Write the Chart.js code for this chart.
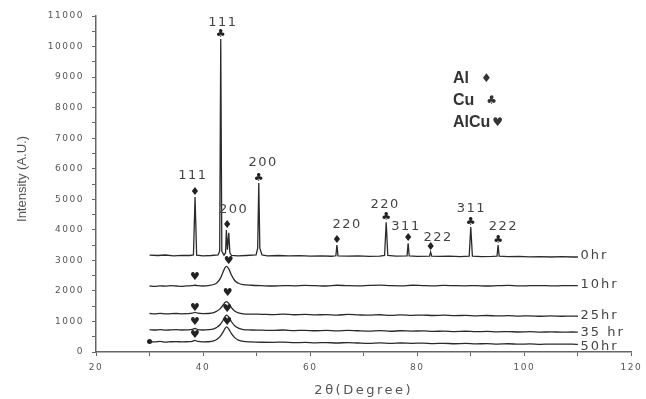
<!DOCTYPE html>
<html>
<head>
<meta charset="utf-8">
<script src="https://cdn.jsdelivr.net/npm/chart.js@4.4.1/dist/chart.umd.min.js"></script>
<style>
  html, body { margin: 0; padding: 0; background: #fff; }
  #xrd { display: block; }
</style>
</head>
<body>
<canvas id="xrd" width="646" height="399"></canvas>
<script>
// XRD patterns, 2-theta (deg) vs intensity (a.u.)
// as-received powder (0hr), sharp lines
const tt0 = [30, 31.5, 33, 34.5, 36, 37.5, 38.2, 38.5, 38.8, 40, 41.5, 42.8, 43.1, 43.3, 43.5, 43.9,
  44.2, 44.35, 44.55, 44.8, 45.0, 45.3, 46.5, 48, 49.9, 50.2, 50.4, 50.6, 51, 52, 54, 56, 58, 60, 62, 64,
  64.8, 65.0, 65.2, 67, 69, 71, 73, 73.9, 74.2, 74.5, 76, 78.1, 78.3, 78.5, 80, 82.3, 82.5, 82.7,
  84, 86, 88, 89.7, 90.0, 90.3, 92, 94, 94.9, 95.1, 95.3, 97, 99, 101, 103, 105, 107, 109, 110];
const i0hr = [3170, 3160, 3175, 3150, 3165, 3160, 3180, 5070, 3170, 3150, 3160, 3180, 3300, 10250, 3300, 3170,
  3250, 3990, 3350, 3900, 3250, 3160, 3150, 3160, 3180, 3400, 5530, 3400, 3180, 3150, 3160, 3145, 3155, 3140, 3150, 3135,
  3150, 3500, 3150, 3140, 3145, 3130, 3140, 3160, 4250, 3160, 3140, 3150, 3560, 3145, 3130, 3140, 3270, 3140,
  3130, 3140, 3125, 3140, 4090, 3140, 3125, 3130, 3140, 3500, 3140, 3120, 3130, 3115, 3125, 3110, 3120, 3110, 3110];

// milled powders share one 2-theta grid
const ttMA = [30, 31, 32, 33, 34, 35, 36, 37, 38, 38.5, 39, 40, 41, 42, 42.6, 43.2, 43.7, 44.1, 44.4, 44.8,
  45.3, 45.9, 46.6, 47.5, 49, 51, 53, 55, 57, 59, 61, 63, 65, 67, 69, 71, 73, 75, 77, 79, 81, 83, 85, 87,
  89, 91, 93, 95, 97, 99, 101, 103, 105, 107, 109, 110];
const i10hr = [2160, 2150, 2165, 2155, 2170, 2160, 2150, 2165, 2170, 2185, 2170, 2160, 2175, 2210, 2270, 2400, 2600, 2760, 2800, 2720,
  2520, 2340, 2250, 2205, 2185, 2170, 2160, 2175, 2165, 2180, 2170, 2160, 2185, 2170, 2165, 2180, 2190, 2170, 2165, 2185, 2175, 2165, 2180, 2170,
  2165, 2175, 2160, 2170, 2180, 2165, 2170, 2175, 2165, 2170, 2175, 2170];
const i25hr = [1260, 1250, 1265, 1245, 1255, 1260, 1250, 1255, 1270, 1300, 1270, 1255, 1260, 1290, 1340, 1420, 1530, 1620, 1650, 1590,
  1450, 1340, 1280, 1250, 1240, 1235, 1225, 1240, 1220, 1230, 1215, 1225, 1210, 1230, 1215, 1205, 1220, 1200, 1215, 1200, 1210, 1195, 1205, 1190,
  1200, 1185, 1195, 1180, 1190, 1175, 1185, 1170, 1180, 1170, 1175, 1170];
const i35hr = [730, 720, 735, 715, 725, 730, 720, 725, 740, 770, 735, 720, 730, 760, 810, 900, 1030, 1160, 1210, 1140,
  990, 860, 780, 735, 720, 715, 705, 720, 700, 710, 695, 705, 690, 710, 695, 685, 700, 680, 695, 685, 690, 675, 685, 670,
  680, 665, 675, 660, 670, 655, 665, 650, 660, 650, 655, 650];
const i50hr = [340, 330, 345, 325, 335, 340, 330, 335, 350, 380, 345, 330, 335, 365, 420, 510, 640, 770, 820, 750,
  600, 470, 390, 345, 330, 320, 315, 325, 305, 315, 300, 310, 295, 310, 295, 285, 300, 280, 295, 285, 290, 275, 285, 270,
  280, 265, 275, 260, 270, 255, 265, 250, 260, 255, 255, 250];

// series names at the right end of each trace
const seriesNames = ['0hr', '10hr', '25hr', '35 hr', '50hr'];
const seriesNameY = [3150, 2200, 1180, 650, 170];
const seriesNameX = 110.5;

// phase markers on the 0hr peaks
const peakPhase = ['Al', 'Cu', 'Al', 'Cu', 'Al', 'Cu', 'Al', 'Al', 'Cu', 'Cu'];
const peak2T = [38.5, 43.3, 44.5, 50.4, 65.0, 74.2, 78.3, 82.5, 90.0, 95.1];
const peakMarkY = [5240, 10420, 4160, 5700, 3670, 4420, 3730, 3440, 4260, 3670];
const hklText = ['111', '111', '200', '200', '220', '220', '311', '222', '311', '222'];
const hklX = [38.1, 43.7, 45.7, 51.2, 66.9, 74.0, 77.9, 83.9, 90.1, 96.1];
const hklY = [5760, 10770, 4650, 6190, 4160, 4810, 4120, 3760, 4680, 4090];

// AlCu markers on the milled traces
const alcu2T = [38.5, 44.8, 38.5, 44.6, 38.5, 44.5, 38.5, 44.5];
const alcuY = [2450, 2980, 1440, 1930, 980, 1410, 560, 980];

const glyph = { Al: '\u2666', Cu: '\u2663', AlCu: '\u2665' };
const legendItems = ['Al', 'Cu', 'AlCu'];

const toXY = (xs, ys) => xs.map((v, i) => ({ x: v, y: ys[i] }));

const lineStyle = { borderColor: '#2a2a2a', borderWidth: 1.3, pointRadius: 0, fill: false };

const xrdText = {
  id: 'xrdText',
  beforeDraw(chart) {
    chart.ctx.letterSpacing = '1.5px';
  },
  afterDraw(chart) {
    const { ctx, scales: { x, y } } = chart;
    ctx.save();
    ctx.textAlign = 'center';
    ctx.textBaseline = 'middle';

    // peak markers
    ctx.letterSpacing = '0px';
    ctx.fillStyle = '#222';
    ctx.font = '11px "DejaVu Sans"';
    peak2T.forEach((t, i) => {
      ctx.fillText(glyph[peakPhase[i]], x.getPixelForValue(t), y.getPixelForValue(peakMarkY[i]));
    });
    alcu2T.forEach((t, i) => {
      ctx.fillText(glyph.AlCu, x.getPixelForValue(t), y.getPixelForValue(alcuY[i]));
    });

    // hkl labels
    ctx.letterSpacing = '1.5px';
    ctx.fillStyle = '#444';
    ctx.font = '13px "DejaVu Sans"';
    hklText.forEach((s, i) => {
      ctx.fillText(s, x.getPixelForValue(hklX[i]), y.getPixelForValue(hklY[i]));
    });

    // series names
    ctx.textAlign = 'left';
    ctx.letterSpacing = '2px';
    seriesNames.forEach((s, i) => {
      ctx.fillText(s, x.getPixelForValue(seriesNameX), y.getPixelForValue(seriesNameY[i]));
    });

    // legend box
    ctx.letterSpacing = '0px';
    ctx.fillStyle = '#333';
    legendItems.forEach((s, i) => {
      const ly = 79 + i * 22;
      ctx.font = 'bold 16px "Liberation Sans"';
      ctx.fillText(s, 453, ly);
      const w = ctx.measureText(s).width;
      ctx.font = '12px "DejaVu Sans"';
      ctx.fillText(glyph[s], 453 + w + (s === 'AlCu' ? 2 : 12), ly);
    });

    // axis titles
    ctx.fillStyle = '#555';
    ctx.textAlign = 'center';
    ctx.font = '13px "DejaVu Sans"';
    ctx.letterSpacing = '2.5px';
    ctx.fillText('2\u03B8(Degree)', (chart.chartArea.left + chart.chartArea.right) / 2, 391);
    ctx.letterSpacing = '0px';
    ctx.font = '13px "Liberation Sans"';
    ctx.translate(22, 179);
    ctx.rotate(-Math.PI / 2);
    ctx.fillText('Intensity (A.U.)', 0, 0);
    ctx.restore();
  }
};

new Chart(document.getElementById('xrd'), {
  type: 'line',
  data: {
    datasets: [
      { label: '0hr', data: toXY(tt0, i0hr), ...lineStyle, tension: 0 },
      { label: '10hr', data: toXY(ttMA, i10hr), ...lineStyle, cubicInterpolationMode: 'monotone' },
      { label: '25hr', data: toXY(ttMA, i25hr), ...lineStyle, cubicInterpolationMode: 'monotone' },
      { label: '35 hr', data: toXY(ttMA, i35hr), ...lineStyle, cubicInterpolationMode: 'monotone' },
      { label: '50hr', data: toXY(ttMA, i50hr), ...lineStyle, cubicInterpolationMode: 'monotone',
        pointRadius: c => c.dataIndex === 0 ? 2.5 : 0, pointBackgroundColor: '#222', pointBorderWidth: 0 }
    ]
  },
  options: {
    responsive: false,
    animation: false,
    layout: { padding: { top: 16, right: 14, left: 0, bottom: 0 } },
    plugins: { legend: { display: false }, tooltip: { enabled: false } },
    scales: {
      x: {
        type: 'linear', min: 20, max: 120,
        afterFit: s => { s.height = 47; },
        border: { color: '#666', width: 1.5 },
        grid: { drawOnChartArea: false, tickLength: 4, color: '#666' },
        ticks: {
          stepSize: 10, padding: 6, color: '#555', maxRotation: 0,
          font: { family: 'DejaVu Sans', size: 9 },
          callback: v => v % 20 === 0 ? v : ''
        }
      },
      y: {
        min: 0, max: 11000,
        afterFit: s => { s.width = 96; },
        border: { color: '#666', width: 1.5 },
        grid: { drawOnChartArea: false, tickLength: 4, color: '#666' },
        ticks: {
          stepSize: 500, padding: 8, color: '#555',
          font: { family: 'DejaVu Sans', size: 9 },
          callback: v => v % 1000 === 0 ? v : ''
        }
      }
    }
  },
  plugins: [xrdText]
});
</script>
</body>
</html>
